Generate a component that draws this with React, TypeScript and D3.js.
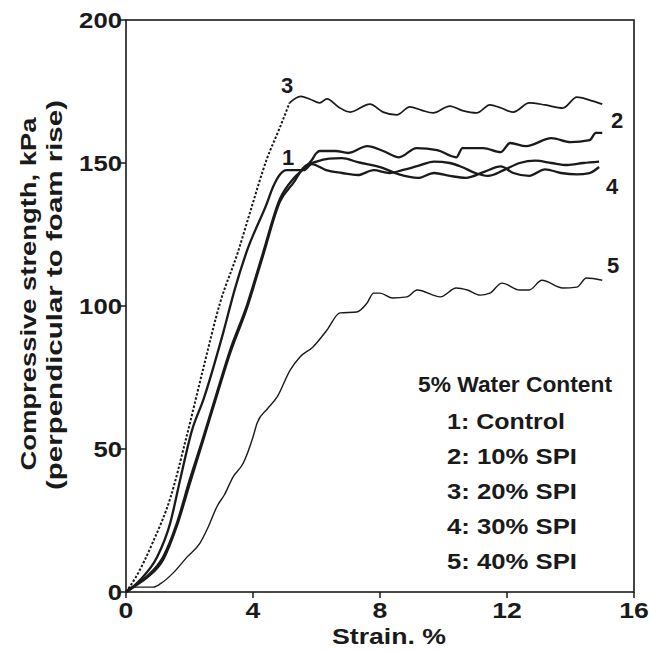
import React from "react";
import * as d3 from "d3";

type P = [number, number];

const xTicks = [0, 4, 8, 12, 16];
const yTicks = [0, 50, 100, 150, 200];

const curve1: P[] = [[0,0],[0.1,0.7],[0.44,4.2],[0.98,12.2],[1.39,24],[1.7,39],[2.08,56.6],[2.43,67],[3.06,90.6],[3.43,106],[3.8,119],[4.44,136],[4.63,141.6],[4.85,146],[5.05,147.5],[5.6,147.5],[5.85,149.6],[6.3,147.5],[6.8,146.5],[7.3,145.8],[7.8,147.5],[8.3,146.5],[8.7,147.5],[9.2,149],[9.7,150.5],[10.2,150],[10.6,148.5],[11.0,146.5],[11.4,145.5],[11.9,147.5],[12.4,150],[12.9,150.8],[13.4,150],[13.9,149.3],[14.4,150],[14.9,150.5]];
const curve2: P[] = [[0,0],[0.3,2.5],[0.66,5.5],[1.18,12.5],[1.6,24],[2.0,39],[2.43,54],[2.87,70],[3.28,84.6],[3.8,100],[4.3,118],[4.85,137.5],[5.27,144.5],[5.6,148],[5.85,151],[6.0,153.5],[6.1,154.2],[6.6,154.2],[7.0,153.5],[7.6,155.9],[8.1,154.2],[8.6,152],[9.15,155.2],[9.8,154.5],[10.4,152],[10.6,155.2],[11.25,155.2],[11.8,153.8],[12.1,157],[12.6,155.9],[13.4,158.7],[14.0,157.3],[14.6,158],[14.8,160.5],[15.0,160.5]];
const curve3: P[] = [[0,0],[0.3,5],[0.85,17.5],[1.4,33],[1.9,54],[2.43,78],[2.96,101],[3.53,119],[3.9,132.5],[4.44,151.5],[4.85,162.5],[5.15,171],[5.5,173.3],[5.8,172.3],[6.1,171],[6.33,172.4],[6.7,169.5],[7.06,167.8],[7.68,170.6],[8.1,167.8],[8.53,166.8],[8.94,169.6],[9.3,168.5],[9.67,167.5],[10.2,169.9],[10.6,168.3],[11.05,167.5],[11.46,170.3],[11.8,169.3],[12.2,167.8],[12.7,171],[13.2,170.3],[13.76,169.2],[14.2,173],[14.6,172],[15.0,170.6]];
const curve4: P[] = [[0,0],[0.3,2.2],[0.66,5],[1.18,11.5],[1.6,23],[2.0,37.5],[2.43,53],[2.87,69],[3.28,83.5],[3.8,99],[4.3,117],[4.85,136.5],[5.3,143.5],[5.6,148.5],[6.0,150.5],[6.4,151.5],[6.8,151.7],[7.3,150.3],[8.1,148.2],[8.6,146],[9.2,144.8],[9.7,146.5],[10.2,145.5],[10.7,144.8],[11.3,147],[11.8,148.8],[12.2,146.5],[12.7,145.5],[13.2,147.8],[13.7,146.5],[14.2,146],[14.6,146.5],[14.9,148.6]];
const curve5: P[] = [[0,0],[0.15,1.7],[0.85,1.7],[1.1,3],[1.48,6.6],[1.92,12.2],[2.33,17.1],[2.6,23],[2.87,30],[3.1,34],[3.37,40.2],[3.69,45],[4.0,54.2],[4.13,59.1],[4.45,64],[4.76,68.2],[5.17,77.6],[5.48,82.2],[5.89,85.7],[6.33,91.6],[6.74,97.6],[7.27,97.9],[7.59,101],[7.8,104.5],[8.0,104.5],[8.4,102.8],[8.85,103.2],[9.17,105.6],[9.9,103.2],[10.4,106.3],[10.75,105.6],[11.15,103.8],[11.46,104.5],[11.84,108],[12.4,105.6],[12.7,105.6],[13.1,109],[13.76,106.3],[14.2,106.6],[14.5,109.8],[15.0,109]];

const legendTitle = "5% Water Content";
const legendItems = ["1: Control", "2: 10% SPI", "3: 20% SPI", "4: 30% SPI", "5: 40% SPI"];

const FONT = "'Liberation Sans', Arial, Helvetica, sans-serif";
const INK = "#1a1a1a";

export default function App() {
  const x = d3.scaleLinear().domain([0, 16]).range([126, 634]);
  const y = d3.scaleLinear().domain([0, 200]).range([592, 20]);
  const line = d3.line<P>().x(d => x(d[0])).y(d => y(d[1])).curve(d3.curveMonotoneX);

  const c3dot = curve3.filter(d => d[0] <= 5.15);
  const c3solid = curve3.filter(d => d[0] >= 5.15);

  const T = (props: any) => (
    <text fontFamily={FONT} fontWeight="bold" fill={INK} lengthAdjust="spacingAndGlyphs" {...props} />
  );

  return (
    <svg width={649} height={651} style={{ position: "absolute", left: 0, top: 0, background: "#fff" }}>
      <rect x={0} y={0} width={649} height={651} fill="#fff" />
      <rect x={x(0)} y={y(200)} width={x(16) - x(0)} height={y(0) - y(200)} fill="none" stroke={INK} strokeWidth={1.6} />
      {yTicks.map(t => (
        <g key={"y" + t}>
          <line x1={x(0) - 6} x2={x(0)} y1={y(t)} y2={y(t)} stroke={INK} strokeWidth={1.5} />
          <T x={122} y={y(t) + 8} fontSize={22} textAnchor="end" textLength={String(t).length * 14.3}>{t}</T>
        </g>
      ))}
      {xTicks.map(t => (
        <g key={"x" + t}>
          <line x1={x(t)} x2={x(t)} y1={y(0)} y2={y(0) + 6} stroke={INK} strokeWidth={1.5} />
          <T x={x(t)} y={618} fontSize={22} textAnchor="middle" textLength={String(t).length * 14.8}>{t}</T>
        </g>
      ))}
      <T x={389} y={644} fontSize={22} textAnchor="middle" textLength={114}>Strain. %</T>
      <T transform="translate(36,294) rotate(-90)" x={0} y={0} fontSize={22} textAnchor="middle" textLength={353}>Compressive strength, kPa</T>
      <T transform="translate(62,295) rotate(-90)" x={0} y={0} fontSize={22} textAnchor="middle" textLength={390}>(perpendicular to foam rise)</T>

      <path d={line(curve5) || ""} fill="none" stroke={INK} strokeWidth={1.4} strokeLinejoin="round" />
      <path d={line(c3dot) || ""} fill="none" stroke={INK} strokeWidth={2} strokeDasharray="2.4,1.8" />
      <path d={line(c3solid) || ""} fill="none" stroke={INK} strokeWidth={1.7} strokeLinejoin="round" />
      <path d={line(curve4) || ""} fill="none" stroke={INK} strokeWidth={2.3} strokeLinejoin="round" />
      <path d={line(curve2) || ""} fill="none" stroke={INK} strokeWidth={2.3} strokeLinejoin="round" />
      <path d={line(curve1) || ""} fill="none" stroke={INK} strokeWidth={2.3} strokeLinejoin="round" />

      <T x={287} y={93} fontSize={22} textAnchor="middle">3</T>
      <T x={288} y={165} fontSize={22} textAnchor="middle">1</T>
      <T x={617} y={128} fontSize={22} textAnchor="middle">2</T>
      <T x={612} y={194} fontSize={22} textAnchor="middle">4</T>
      <T x={613} y={273} fontSize={22} textAnchor="middle">5</T>

      <T x={418} y={392} fontSize={22} textLength={194}>{legendTitle}</T>
      {legendItems.map((s, i) => (
        <T key={s} x={447} y={429 + i * 35} fontSize={22} textLength={s === "1: Control" ? 118 : 130}>{s}</T>
      ))}
    </svg>
  );
}
